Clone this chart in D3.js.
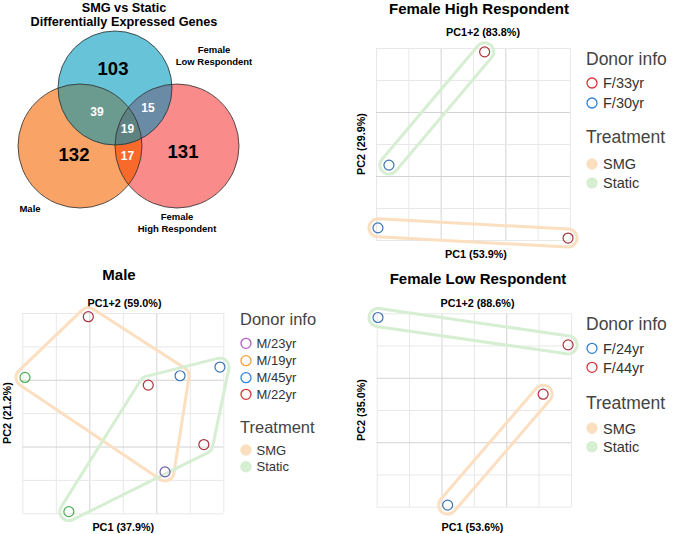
<!DOCTYPE html>
<html>
<head>
<meta charset="utf-8">
<script src="https://cdn.jsdelivr.net/npm/d3@7"></script>
<style>
  body { margin: 0; background: #fff; }
  svg { display: block; font-family: "Liberation Sans", Arial, Helvetica, sans-serif; }
  .grid line { stroke: #e8e8e8; stroke-width: 1; }
  .grid line.major { stroke: #d3d3d3; }
  .bold { font-weight: bold; fill: #000; }
</style>
</head>
<body>
<div id="graf"></div>
<script>
// ---- datos del diagrama de Venn ----
const vennRegions = ["M", "L", "H", "ML", "MH", "LH", "MLH"]
const vennCounts = [132, 103, 131, 39, 17, 15, 19]
const vennTitle = ["SMG vs Static", "Differentially Expressed Genes"]

// ---- datos de los PCA ----
const treatments = ["SMG", "Static"]

const fhrDonors = ["F/33yr", "F/30yr"]
const fhrDonor = ["F/33yr", "F/30yr", "F/30yr", "F/33yr"]
const fhrTreat = ["Static", "Static", "SMG", "SMG"]
const fhrPC1 = [3.36, 0.40, 0.06, 5.94]
const fhrPC2 = [5.88, 2.34, 0.38, 0.06]
const fhrLabels = ["Female High Respondent", "PC1+2 (83.8%)", "PC1 (53.9%)", "PC2 (29.9%)"]

const maleDonors = ["M/23yr", "M/19yr", "M/45yr", "M/22yr"]
const maleDonor = ["M/22yr", "M/19yr", "M/23yr", "M/45yr", "M/22yr", "M/45yr", "M/22yr", "M/19yr"]
const maleTreat = ["SMG", "SMG", "SMG", "SMG", "Static", "Static", "Static", "Static"]
const malePC1 = [1.97, 0.08, 4.26, 4.71, 3.76, 5.90, 5.42, 1.39]
const malePC2 = [5.89, 4.07, 1.24, 4.12, 3.84, 4.38, 2.06, 0.05]
const maleLabels = ["Male", "PC1+2 (59.0%)", "PC1 (37.9%)", "PC2 (21.2%)"]

const flrDonors = ["F/24yr", "F/44yr"]
const flrDonor = ["F/24yr", "F/44yr", "F/44yr", "F/24yr"]
const flrTreat = ["Static", "Static", "SMG", "SMG"]
const flrPC1 = [0.04, 5.91, 5.14, 2.19]
const flrPC2 = [5.87, 5.02, 3.49, 0.05]
const flrLabels = ["Female Low Respondent", "PC1+2 (88.6%)", "PC1 (53.6%)", "PC2 (35.0%)"]

const gridTicks = [0, 1, 2, 3, 4, 5, 6]
const majorTicks = [2, 4]

// colores
const legendColor = d3.scaleOrdinal()
  .domain(["F/33yr", "F/30yr", "M/23yr", "M/19yr", "M/45yr", "M/22yr", "F/24yr", "F/44yr"])
  .range(["#d2353a", "#2f80d6", "#b25cc6", "#f4a03a", "#2f85dc", "#d7322e", "#2f80d6", "#d2353a"])
const pointColor = d3.scaleOrdinal()
  .domain(["F/33yr", "F/30yr", "M/23yr", "M/19yr", "M/45yr", "M/22yr", "F/24yr", "F/44yr"])
  .range(["#ad2f38", "#3a73b3", "#6a5aa8", "#4cae52", "#3a74b4", "#a8343e", "#3a73b3", "#ad2f38"])
const treatColor = d3.scaleOrdinal().domain(treatments).range(["#fbdfc0", "#d6eed2"])

const svg = d3.select("#graf").append("svg").attr("width", 673).attr("height", 534)

// ================= Venn =================
const circ = {
  M: { cx: 80, cy: 146, r: 62, fill: "#f9a466" },
  H: { cx: 177, cy: 146, r: 62, fill: "#f98b8b" },
  L: { cx: 115, cy: 88, r: 57, fill: "#67c3d8" }
}
const defs = svg.append("defs")
Object.entries(circ).forEach(([k, c]) => {
  defs.append("clipPath").attr("id", "clip" + k)
    .append("circle").attr("cx", c.cx).attr("cy", c.cy).attr("r", c.r)
})
const venn = svg.append("g")
;["H", "M", "L"].forEach((k) => {
  const c = circ[k]
  venn.append("circle").attr("cx", c.cx).attr("cy", c.cy).attr("r", c.r).attr("fill", c.fill)
})
// intersecciones
const inter = (a, b, col) =>
  venn.append("g").attr("clip-path", `url(#clip${b})`)
    .append("circle").attr("cx", circ[a].cx).attr("cy", circ[a].cy).attr("r", circ[a].r).attr("fill", col)
inter("M", "H", "#f86a2c")
inter("L", "M", "#6b9a8e")
inter("L", "H", "#6a8ba5")
venn.append("g").attr("clip-path", "url(#clipH)")
  .append("g").attr("clip-path", "url(#clipM)")
  .append("circle").attr("cx", circ.L.cx).attr("cy", circ.L.cy).attr("r", circ.L.r).attr("fill", "#5e8282")
;["H", "M", "L"].forEach((k) => {
  const c = circ[k]
  venn.append("circle").attr("cx", c.cx).attr("cy", c.cy).attr("r", c.r)
    .attr("fill", "none").attr("stroke", "#2b2b2b").attr("stroke-width", 0.8)
})

const regionPos = {
  M: [74, 154, 18.5, "#000"], L: [113, 68, 18.5, "#000"], H: [183, 151, 18.5, "#000"],
  ML: [97, 111.5, 12, "#fff"], MH: [127.5, 156, 12, "#fff"], LH: [148, 107.5, 12, "#fff"], MLH: [127.5, 128.5, 12, "#fff"]
}
vennRegions.forEach((r, i) => {
  const p = regionPos[r]
  venn.append("text").attr("class", "bold")
    .attr("x", p[0]).attr("y", p[1]).attr("dy", "0.36em")
    .attr("text-anchor", "middle").attr("font-size", p[2]).style("fill", p[3])
    .text(vennCounts[i])
})
vennTitle.forEach((t, i) => {
  venn.append("text").attr("class", "bold").attr("x", 124).attr("y", 7 + i * 14.5).attr("dy", "0.36em")
    .attr("text-anchor", "middle").attr("font-size", 12.7).text(t)
})
const setLabels = [
  { lines: ["Female", "Low Respondent"], x: 214, y: 49.5 },
  { lines: ["Male"], x: 30, y: 208.5 },
  { lines: ["Female", "High Respondent"], x: 177, y: 217 }
]
setLabels.forEach((s) => {
  s.lines.forEach((t, i) => {
    venn.append("text").attr("class", "bold").attr("x", s.x).attr("y", s.y + i * 11.7).attr("dy", "0.36em")
      .attr("text-anchor", "middle").attr("font-size", 9.5).text(t)
  })
})

// ================= PCA =================
// contorno redondeado alrededor de los puntos (tipo mark_hull)
const hullPath = (pts, d) => {
  const hull = pts.length >= 3 ? d3.polygonHull(pts) : pts.slice()
  const n = hull.length
  const c = [d3.mean(hull, (p) => p[0]), d3.mean(hull, (p) => p[1])]
  let normals = hull.map((a, i) => {
    const b = hull[(i + 1) % n]
    const dx = b[0] - a[0], dy = b[1] - a[1], len = Math.hypot(dx, dy)
    return [dy / len, -dx / len]
  })
  if (n >= 3) {
    const m = [(hull[0][0] + hull[1][0]) / 2, (hull[0][1] + hull[1][1]) / 2]
    if (normals[0][0] * (m[0] - c[0]) + normals[0][1] * (m[1] - c[1]) < 0)
      normals = normals.map((v) => [-v[0], -v[1]])
  }
  const out = []
  hull.forEach((v, i) => {
    const nIn = normals[(i - 1 + n) % n], nOut = normals[i]
    const a1 = Math.atan2(nIn[1], nIn[0])
    let delta = Math.atan2(nOut[1], nOut[0]) - a1
    while (delta > Math.PI) delta -= 2 * Math.PI
    while (delta <= -Math.PI) delta += 2 * Math.PI
    const mid = a1 + delta / 2
    if (Math.cos(mid) * (v[0] - c[0]) + Math.sin(mid) * (v[1] - c[1]) < 0)
      delta -= 2 * Math.PI * Math.sign(delta || 1)
    for (let k = 0; k <= 16; k++) {
      const a = a1 + (delta * k) / 16
      out.push([v[0] + d * Math.cos(a), v[1] + d * Math.sin(a)])
    }
  })
  return d3.line().curve(d3.curveLinearClosed)(out)
}

const panels = [
  { labels: fhrLabels, donors: fhrDonors, donor: fhrDonor, treat: fhrTreat, pc1: fhrPC1, pc2: fhrPC2,
    x0: 376, x1: 570, y0: 48, y1: 240,
    titlePos: [479, 8.2], topPos: [483, 32.3], botPos: [476, 254.5], leftX: 361,
    leg: { x: 586, cx: 592, tx: 603, title1: 59, items: [83, 103], title2: 137, treat: [164, 183], fs1: 17.5, fs2: 14.5 } },
  { labels: maleLabels, donors: maleDonors, donor: maleDonor, treat: maleTreat, pc1: malePC1, pc2: malePC2,
    x0: 22.3, x1: 223.3, y0: 313, y1: 513.3,
    titlePos: [119, 275], topPos: [124.5, 302.7], botPos: [123.3, 526.7], leftX: 6.7,
    leg: { x: 240, cx: 246, tx: 256.5, title1: 319.5, items: [343.3, 360.7, 377.7, 394.3], title2: 426.7, treat: [450, 466.7], fs1: 16.5, fs2: 13 } },
  { labels: flrLabels, donors: flrDonors, donor: flrDonor, treat: flrTreat, pc1: flrPC1, pc2: flrPC2,
    x0: 376.7, x1: 571, y0: 313.3, y1: 506.7,
    titlePos: [478, 278.3], topPos: [477.5, 303.3], botPos: [472.5, 526.7], leftX: 361,
    leg: { x: 586, cx: 592, tx: 603, title1: 323.3, items: [348.3, 367.3], title2: 402.7, treat: [428.3, 446.7], fs1: 17.5, fs2: 14.5 } }
]

panels.forEach((p) => {
  const g = svg.append("g")
  const x = d3.scaleLinear().domain([0, 6]).range([p.x0, p.x1])
  const y = d3.scaleLinear().domain([0, 6]).range([p.y1, p.y0])
  const cym = (p.y0 + p.y1) / 2

  // rejilla
  g.append("g").attr("class", "grid").attr("transform", `translate(0, ${p.y1})`)
    .call(d3.axisBottom(x).tickValues(gridTicks).tickSize(-(p.y1 - p.y0)).tickFormat(""))
  g.append("g").attr("class", "grid").attr("transform", `translate(${p.x0}, 0)`)
    .call(d3.axisLeft(y).tickValues(gridTicks).tickSize(-(p.x1 - p.x0)).tickFormat(""))
  g.selectAll(".grid .domain").remove()
  g.selectAll(".grid .tick line").classed("major", (d) => majorTicks.includes(d))

  // textos
  g.append("text").attr("class", "bold").attr("x", p.titlePos[0]).attr("y", p.titlePos[1]).attr("dy", "0.36em")
    .attr("text-anchor", "middle").attr("font-size", 15).text(p.labels[0])
  g.append("text").attr("class", "bold").attr("x", p.topPos[0]).attr("y", p.topPos[1]).attr("dy", "0.36em")
    .attr("text-anchor", "middle").attr("font-size", 10.8).text(p.labels[1])
  g.append("text").attr("class", "bold").attr("x", p.botPos[0]).attr("y", p.botPos[1]).attr("dy", "0.36em")
    .attr("text-anchor", "middle").attr("font-size", 10.8).text(p.labels[2])
  g.append("text").attr("class", "bold")
    .attr("transform", `translate(${p.leftX}, ${cym}) rotate(-90)`).attr("dy", "0.36em")
    .attr("text-anchor", "middle").attr("font-size", 10.8).text(p.labels[3])

  // contornos por tratamiento
  treatments.forEach((t) => {
    const pts = p.pc1.map((v, i) => [x(v), y(p.pc2[i])]).filter((d, i) => p.treat[i] === t)
    g.append("path").attr("d", hullPath(pts, 9))
      .attr("fill", "none").attr("stroke", treatColor(t)).attr("stroke-width", 3)
      .attr("stroke-linejoin", "round")
  })

  // puntos
  g.selectAll("circle.pt").data(p.pc1.map((v, i) => ({ pc1: v, pc2: p.pc2[i], donor: p.donor[i] })))
    .enter()
    .append("circle")
    .attr("class", "pt")
    .attr("cx", (d) => x(d.pc1))
    .attr("cy", (d) => y(d.pc2))
    .attr("r", 5)
    .attr("fill", "none")
    .attr("stroke", (d) => pointColor(d.donor))
    .attr("stroke-width", 1.2)

  // leyenda
  const L = p.leg
  g.append("text").attr("x", L.x).attr("y", L.title1).attr("dy", "0.36em")
    .attr("font-size", L.fs1).attr("fill", "#444").text("Donor info")
  p.donors.forEach((dn, i) => {
    g.append("circle").attr("cx", L.cx).attr("cy", L.items[i]).attr("r", 5)
      .attr("fill", "none").attr("stroke", legendColor(dn)).attr("stroke-width", 1.3)
    g.append("text").attr("x", L.tx).attr("y", L.items[i]).attr("dy", "0.36em")
      .attr("font-size", L.fs2).attr("fill", "#333").text(dn)
  })
  g.append("text").attr("x", L.x).attr("y", L.title2).attr("dy", "0.36em")
    .attr("font-size", L.fs1).attr("fill", "#444").text("Treatment")
  treatments.forEach((t, i) => {
    g.append("circle").attr("cx", L.cx).attr("cy", L.treat[i]).attr("r", 5)
      .attr("fill", treatColor(t)).attr("stroke", treatColor(t)).attr("stroke-width", 1.5)
    g.append("text").attr("x", L.tx).attr("y", L.treat[i]).attr("dy", "0.36em")
      .attr("font-size", L.fs2).attr("fill", "#333").text(t)
  })
})
</script>
</body>
</html>
